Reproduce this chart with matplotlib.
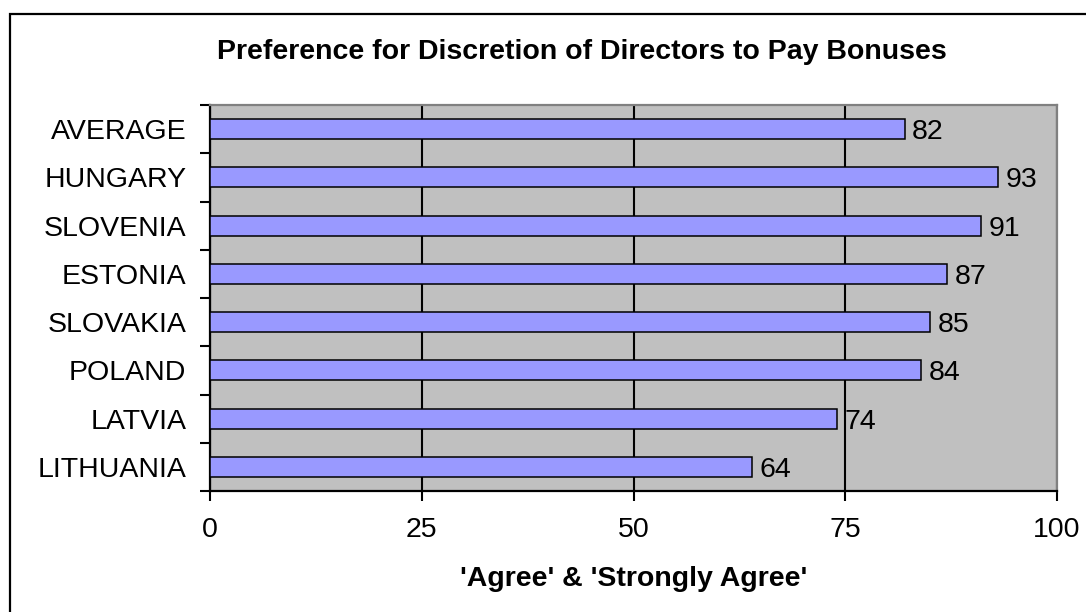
import matplotlib
matplotlib.use("Agg")
import matplotlib.pyplot as plt
from matplotlib.patches import Rectangle
import numpy as np

categories = ["AVERAGE", "HUNGARY", "SLOVENIA", "ESTONIA", "SLOVAKIA", "POLAND", "LATVIA", "LITHUANIA"]
values = [82, 93, 91, 87, 85, 84, 74, 64]
xticks = [0, 25, 50, 75, 100]

plt.rcParams['font.family'] = ['Liberation Sans', 'DejaVu Sans']

W, H = 1086, 612
fig = plt.figure(figsize=(W / 100, H / 100), dpi=100)
fig.patch.set_facecolor('white')

# outer frame (left/top visible, rest cut off)
fig.add_artist(Rectangle((10 / W, -0.1), 1.2, 1 - 14 / H + 0.1, transform=fig.transFigure,
                         fill=False, edgecolor='black', linewidth=1.6))

ax = fig.add_axes([210 / W, 1 - 491 / H, (1057 - 210) / W, (491 - 105) / H])
ax.set_facecolor('#C0C0C0')

y = np.arange(len(categories))
ax.barh(y, values, height=0.41, color='#9999FF', edgecolor='black', linewidth=1.1, zorder=3)

FS = 20.5
for yi, v in zip(y, values):
    ax.text(v + 0.9, yi, str(v), va='center_baseline', ha='left', fontsize=FS, color='black', zorder=4)

ax.set_xlim(0, 100)
ax.set_ylim(len(categories) - 0.5, -0.5)
ax.set_xticks(xticks)
ax.set_xticklabels([str(t) for t in xticks], fontsize=FS)
ax.set_yticks(y)
ax.set_yticklabels(categories, fontsize=FS)
ax.set_yticks(np.arange(-0.5, len(categories), 1.0), minor=True)
ax.tick_params(axis='y', which='major', length=0, pad=17)
ax.tick_params(axis='y', which='minor', length=7, width=1.5, direction='out')
ax.tick_params(axis='x', which='major', length=7, width=1.5, direction='out', pad=12)

ax.grid(axis='x', color='black', linewidth=1.5, zorder=1)
ax.set_axisbelow(True)

for s in ['left', 'bottom']:
    ax.spines[s].set_color('black')
    ax.spines[s].set_linewidth(1.6)
for s in ['top', 'right']:
    ax.spines[s].set_color('#808080')
    ax.spines[s].set_linewidth(1.6)

ax.set_xlabel("'Agree' & 'Strongly Agree'", fontsize=20.5, fontweight='bold', labelpad=16)
fig.text(582 / W, 1 - 52 / H, "Preference for Discretion of Directors to Pay Bonuses",
         ha='center', va='center', fontsize=20.5, fontweight='bold')

fig.savefig("out.png", dpi=100)
